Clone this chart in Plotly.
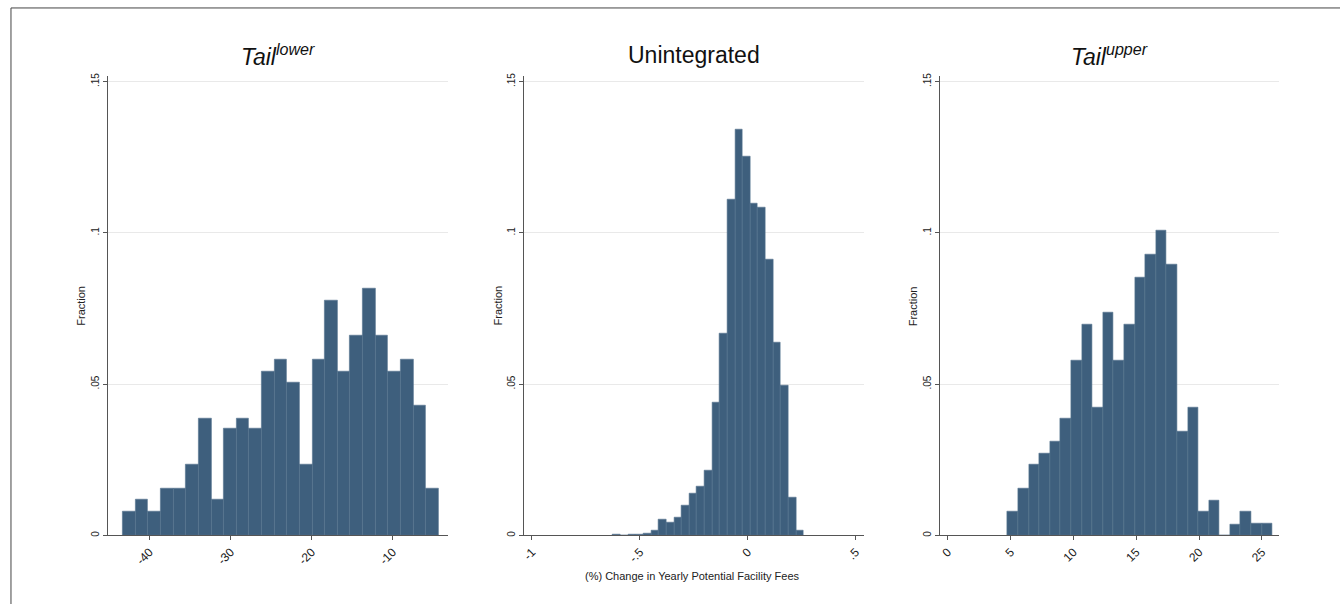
import plotly.graph_objects as go

# ---------------- data ----------------
# Histogram bins (25 equal-width bins per panel): first left edge and width
lower_bin_start = -43.3
lower_bin_width = 1.558
lower_fraction = [0.0078, 0.0118, 0.0078, 0.0155, 0.0155, 0.0234, 0.0387, 0.0118,
                  0.0352, 0.0387, 0.0352, 0.0542, 0.0583, 0.0506, 0.0234, 0.0583,
                  0.0775, 0.0542, 0.0660, 0.0815, 0.0660, 0.0542, 0.0583, 0.0428,
                  0.0155]

unint_bin_start = -0.625
unint_bin_width = 0.03535
unint_fraction = [0.0003, 0.0, 0.0003, 0.0004, 0.0006, 0.0015, 0.0052, 0.0042,
                  0.0058, 0.0098, 0.0140, 0.0162, 0.0213, 0.0440, 0.0667, 0.1110,
                  0.1340, 0.1253, 0.1098, 0.1085, 0.0913, 0.0636, 0.0494, 0.0124,
                  0.0017]

upper_bin_start = 4.76
upper_bin_width = 0.843
upper_fraction = [0.0078, 0.0155, 0.0234, 0.0270, 0.0310, 0.0387, 0.0579, 0.0696,
                  0.0423, 0.0736, 0.0579, 0.0696, 0.0851, 0.0928, 0.1007, 0.0894,
                  0.0345, 0.0423, 0.0078, 0.0115, 0.0, 0.0036, 0.0078, 0.0039,
                  0.0039]

titles = ["<i>Tail<sup>lower</sup></i>", "Unintegrated", "<i>Tail<sup>upper</sup></i>"]
x_title_mid = "(%) Change in Yearly Potential Facility Fees"
y_title = "Fraction"

lower_ticks = [-40, -30, -20, -10]
lower_ticklabels = ["-40", "-30", "-20", "-10"]
unint_ticks = [-1, -0.5, 0, 0.5]
unint_ticklabels = ["-1", "-.5", "0", ".5"]
upper_ticks = [0, 5, 10, 15, 20, 25]
upper_ticklabels = ["0", "5", "10", "15", "20", "25"]
y_ticks = [0, 0.05, 0.1, 0.15]
y_ticklabels = ["0", ".05", ".1", ".15"]

# ---------------- figure ----------------
W, H = 1340, 605
FONT = "Liberation Sans, Arial, sans-serif"
BAR = "#3e5f7d"
EDGE = "#56738e"
AX = "#555555"

panels = [
    (lower_bin_start, lower_bin_width, lower_fraction, lower_ticks, lower_ticklabels,
     (104, 445), (-45.17, -3.23)),
    (unint_bin_start, unint_bin_width, unint_fraction, unint_ticks, unint_ticklabels,
     (522, 862.7), (-1.035, 0.539)),
    (upper_bin_start, upper_bin_width, upper_fraction, upper_ticks, upper_ticklabels,
     (939, 1279), (-0.61, 26.37)),
]

y_bottom_px, y_top_px = 536, 73
ydom = [1 - y_bottom_px / H, 1 - y_top_px / H]

fig = go.Figure()
layout = dict(
    width=W, height=H,
    margin=dict(l=0, r=0, t=0, b=0),
    paper_bgcolor="white", plot_bgcolor="white",
    showlegend=False, bargap=0,
    font=dict(family=FONT, color="#222222", size=11),
)

annotations = []
for i, (start, width, vals, tv, tt, (px0, px1), xr) in enumerate(panels):
    n = i + 1
    xs = [start + width * (k + 0.5) for k in range(len(vals))]
    xa = "x" if n == 1 else f"x{n}"
    ya = "y" if n == 1 else f"y{n}"
    fig.add_trace(go.Bar(
        x=xs, y=vals, width=[width] * len(vals),
        marker=dict(color=BAR, line=dict(color=EDGE, width=0.6)),
        xaxis=xa, yaxis=ya, hoverinfo="x+y",
    ))
    xkey = "xaxis" if n == 1 else f"xaxis{n}"
    ykey = "yaxis" if n == 1 else f"yaxis{n}"
    layout[xkey] = dict(
        domain=[px0 / W, px1 / W], range=list(xr), anchor=ya,
        showgrid=False, zeroline=False,
        showline=True, linecolor=AX, linewidth=1,
        ticks="outside", ticklen=4, tickcolor=AX, tickwidth=1,
        tickvals=tv, ticktext=tt, tickangle=-45,
        tickfont=dict(family=FONT, size=12, color="#1a1a1a"),
    )
    layout[ykey] = dict(
        domain=ydom, range=[0, 0.152], anchor=xa,
        showgrid=True, gridcolor="#e9e9e9", gridwidth=1,
        zeroline=False,
        showline=True, linecolor=AX, linewidth=1,
        ticks="outside", ticklen=4, tickcolor=AX, tickwidth=1,
        tickvals=y_ticks, ticktext=y_ticklabels, tickangle=-90,
        tickfont=dict(family=FONT, size=10, color="#222222"),
    )
    # panel title
    annotations.append(dict(
        text=titles[i], x=(px0 + px1) / 2 / W, y=1 - 52 / H,
        xref="paper", yref="paper", xanchor="center", yanchor="middle",
        showarrow=False, font=dict(family=FONT, size=23, color="#111111"),
    ))
    # y axis title
    annotations.append(dict(
        text=y_title, x=(px0 - 27) / W, y=1 - 305 / H,
        xref="paper", yref="paper", xanchor="center", yanchor="middle",
        textangle=-90, showarrow=False,
        font=dict(family=FONT, size=11, color="#222222"),
    ))

annotations.append(dict(
    text=x_title_mid, x=(522 + 862.7) / 2 / W - 0.002, y=1 - 577 / H,
    xref="paper", yref="paper", xanchor="center", yanchor="middle",
    showarrow=False, font=dict(family=FONT, size=11, color="#222222"),
))

layout["annotations"] = annotations
layout["shapes"] = [
    dict(type="line", xref="paper", yref="paper",
         x0=7 / W, x1=7 / W, y0=0, y1=1 - 5 / H,
         line=dict(color="#444444", width=1)),
    dict(type="line", xref="paper", yref="paper",
         x0=7 / W, x1=1, y0=1 - 5 / H, y1=1 - 5 / H,
         line=dict(color="#444444", width=1)),
]

fig.update_layout(**layout)
fig.write_html(
    "out.html",
    config={"displayModeBar": False},
    post_script="document.body.style.margin='0';document.body.style.overflow='hidden';",
)
